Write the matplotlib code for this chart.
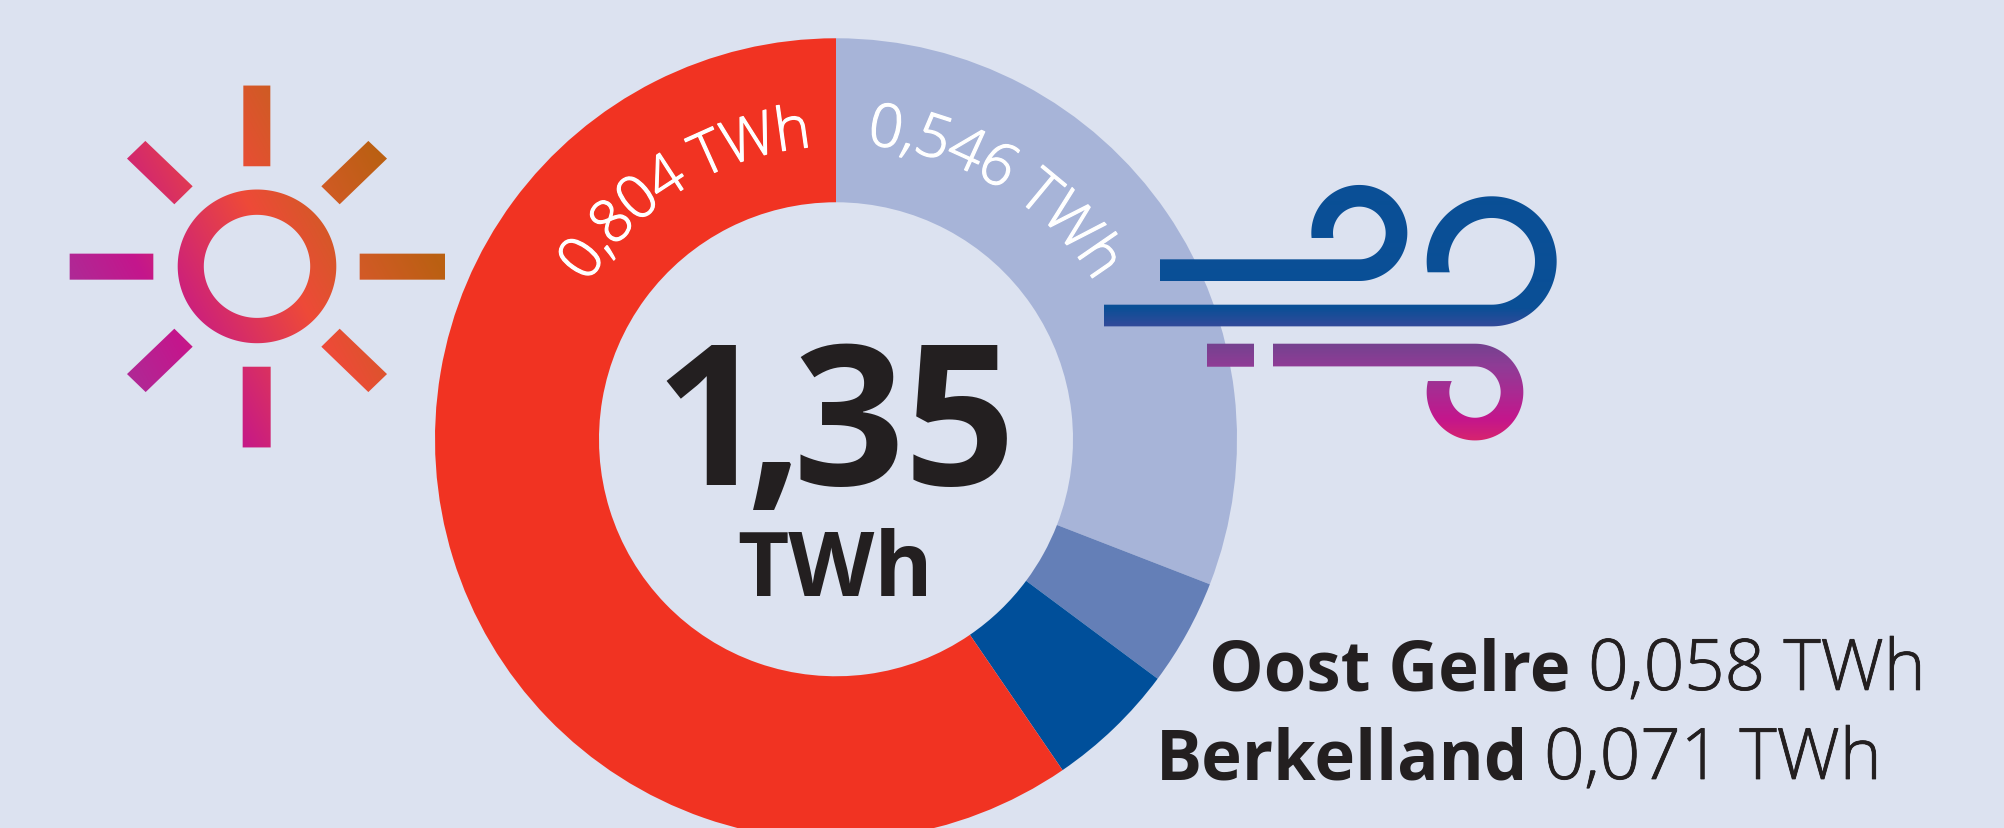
import numpy as np
import matplotlib
matplotlib.use('Agg')
import matplotlib.pyplot as plt
import matplotlib.patheffects as pe
from matplotlib.path import Path
from matplotlib.patches import PathPatch
from matplotlib.colors import LinearSegmentedColormap, Normalize
from matplotlib.font_manager import FontProperties
from matplotlib.textpath import text_to_path

# data
segments = ['Wind overig', 'Oost Gelre', 'Berkelland', 'Zon']
values = [0.417, 0.058, 0.071, 0.804]
colors = ['#A7B4D8', '#647FB7', '#004F9A', '#F13322']
total_parts = ['1', ',', '35']
unit = 'TWh'
sun_label = '0,804 TWh'
wind_label = '0,546 TWh'
names = ['Oost Gelre', 'Berkelland']
name_values = ['0,058 TWh', '0,071 TWh']

BG = '#DCE2F0'
INK = '#231F20'
W, H = 2004, 828
CX, CY, R_OUT, R_IN = 836, 439.5, 401, 237
FONT = 'Open Sans'

plt.rcParams['font.family'] = [FONT, 'DejaVu Sans']

# the +0.5 keeps matplotlib from flooring the height to 827
fig = plt.figure(figsize=(W / 100, (H + 0.5) / 100), dpi=100, facecolor=BG)

# donut
ax_pie = fig.add_axes([(CX - R_OUT) / W, 1 - (CY + R_OUT) / H, 2 * R_OUT / W, 2 * R_OUT / H])
ax_pie.pie(values, colors=colors, startangle=90, counterclock=False, radius=1,
           wedgeprops=dict(width=1 - R_IN / R_OUT, linewidth=0))
ax_pie.set_xlim(-1, 1)
ax_pie.set_ylim(-1, 1)
ax_pie.axis('off')

# overlay in pixel coordinates
ax = fig.add_axes([0, 0, 1, 1], zorder=5)
ax.patch.set_alpha(0)
ax.axis('off')


def poly(points):
    pts = list(points) + [points[0]]
    codes = [Path.MOVETO] + [Path.LINETO] * (len(points) - 1) + [Path.CLOSEPOLY]
    return Path(pts, codes)


def rect(x0, y0, x1, y1):
    return poly([(x0, y0), (x1, y0), (x1, y1), (x0, y1)])


def band(cx, cy, r_out, r_in, a0, a1_out, a1_in, tail_x):
    # straight stroke running into a ring section, flat cut at the free end
    t_o = np.radians(np.linspace(a0, a1_out, 120))
    t_i = np.radians(np.linspace(a1_in, a0, 120))
    pts = [(cx + r_out * np.cos(t), cy + r_out * np.sin(t)) for t in t_o]
    pts += [(cx + r_in * np.cos(t), cy + r_in * np.sin(t)) for t in t_i]
    pts += [(tail_x, pts[-1][1]), (tail_x, pts[0][1])]
    return poly(pts)


def ellipse(cx, cy, rx, ry, reverse=False):
    t = np.radians(np.linspace(0, 360, 240, endpoint=False))
    if reverse:
        t = t[::-1]
    return poly([(cx + rx * np.cos(a), cy + ry * np.sin(a)) for a in t])


def gradient_fill(paths, field, stops):
    lo, hi = stops[0][0], stops[-1][0]
    cmap = LinearSegmentedColormap.from_list(
        'g', [((s - lo) / (hi - lo), c) for s, c in stops], N=512)
    im = ax.imshow(field, extent=(0, W, H, 0), origin='upper', cmap=cmap,
                   norm=Normalize(lo, hi), interpolation='bilinear', aspect='auto', zorder=3)
    patch = PathPatch(Path.make_compound_path(*paths), transform=ax.transData,
                      facecolor='none', edgecolor='none')
    ax.add_patch(patch)
    im.set_clip_path(patch)


xx, yy = np.meshgrid(np.arange(W) + 0.5, np.arange(H) + 0.5)

# sun icon, coordinates measured on a 3x crop
def sx(v):
    return 40 + v / 3


def sy(v):
    return 60 + v / 3


def zoom_poly(points):
    return poly([(sx(a), sy(b)) for a, b in points])


sun_paths = [
    ellipse(257, 266.7, 79.3, 76.8),
    ellipse(257, 266.7, 53.2, 51.5, reverse=True),
    rect(sx(610), sy(78), sx(691), sy(320)),
    rect(sx(608), sy(921), sx(692), sy(1163)),
    rect(sx(89), sy(582), sx(340), sy(660)),
    rect(sx(959), sy(582), sx(1215), sy(660)),
    zoom_poly([(316, 244), (458, 380), (403, 434), (261, 297)]),
    zoom_poly([(985, 244), (1041, 297), (899, 434), (844, 380)]),
    zoom_poly([(403, 807), (458, 861), (317, 997), (261, 943)]),
    zoom_poly([(899, 807), (1041, 943), (985, 997), (844, 861)]),
]
sun_field = (xx - 40) * 3 * 0.877 - (yy - 60) * 3 * 0.48
gradient_fill(sun_paths,
              sun_field,
              [(-240, '#AE2A96'), (-40, '#C4168C'), (340, '#EE4A38'),
               (540, '#D25A26'), (760, '#BA6012')])

# wind icon
def wx(v):
    return 1080 + v / 3


def wy(v):
    return 160 + v / 3


wind_paths = [
    band(wx(838), wy(220), 144 / 3, 79 / 3, 90, -186, -190.9, wx(240)),
    band(wx(1235), wy(305), 195 / 3, 130 / 3, 90, -189.7, -194.7, wx(72)),
    rect(wx(381), wy(552), wx(522), wy(621)),
    band(wx(1185), wy(697), 145 / 3, 77 / 3, -90, 193.2, 205.4, wx(579)),
]
gradient_fill(wind_paths,
              yy,
              [(wy(0), '#0A4F96'), (wy(445), '#0A4F96'), (wy(500), '#324A9A'),
               (wy(552), '#74428F'), (wy(620), '#8F3C96'), (wy(700), '#AA2A92'),
               (wy(780), '#C4168C'), (wy(842), '#D6246F')])

ax.set_xlim(0, W)
ax.set_ylim(H, 0)


# light font with a hairline outline comes closest to the reference weight
def thicker(color, lw):
    return [pe.withStroke(linewidth=lw, foreground=color)]


# text along the ring, radius drifts a little from first to last glyph
def curved(label, r0, r1, start_deg, size, spacing=1.0):
    fp = FontProperties(family=FONT, size=size, weight='light')
    px = 100 / 72
    widths = [text_to_path.get_text_width_height_descent(ch, fp, False)[0] * px * spacing
              for ch in label]
    total = sum(widths)
    pos = 0.0
    for ch, w in zip(label, widths):
        radius = r0 + (r1 - r0) * (pos + w / 2) / total
        ang = start_deg + np.degrees((pos + w / 2) / radius)
        a = np.radians(ang)
        ax.text(CX + radius * np.sin(a), CY - radius * np.cos(a), ch, color='white',
                fontproperties=fp, rotation=-ang, rotation_mode='anchor',
                ha='center', va='baseline', zorder=4,
                path_effects=thicker('white', 0.9))
        pos += w


curved(sun_label, 293, 293, -57.8, 43, spacing=0.953)
curved(wind_label, 296, 303, 5.9, 43, spacing=0.98)

# centre, the three pieces sit tighter than the font's own spacing
part_x = [710, 775.5, 1016]
part_ha = ['center', 'center', 'right']
for part, x, ha in zip(total_parts, part_x, part_ha):
    ax.text(x, 485, part, ha=ha, va='baseline', fontsize=141,
            fontweight='bold', color=INK, family=FONT, zorder=4)
ax.text(933, 596, unit, ha='right', va='baseline', fontsize=64,
        fontweight='bold', color=INK, family=FONT, zorder=4)

# municipality labels
name_x = [1209, 1156]
value_x = [1926, 1882]
base_y = [690, 779]
for nm, val, x0, x1, y in zip(names, name_values, name_x, value_x, base_y):
    ax.text(x0, y, nm, ha='left', va='baseline', fontsize=49.5, fontweight='bold',
            color=INK, family=FONT, zorder=4)
    ax.text(x1, y, val, ha='right', va='baseline', fontsize=51, fontweight='light',
            color=INK, family=FONT, zorder=4, path_effects=thicker(INK, 0.6))

fig.savefig('out.png', dpi=100, facecolor=BG)
